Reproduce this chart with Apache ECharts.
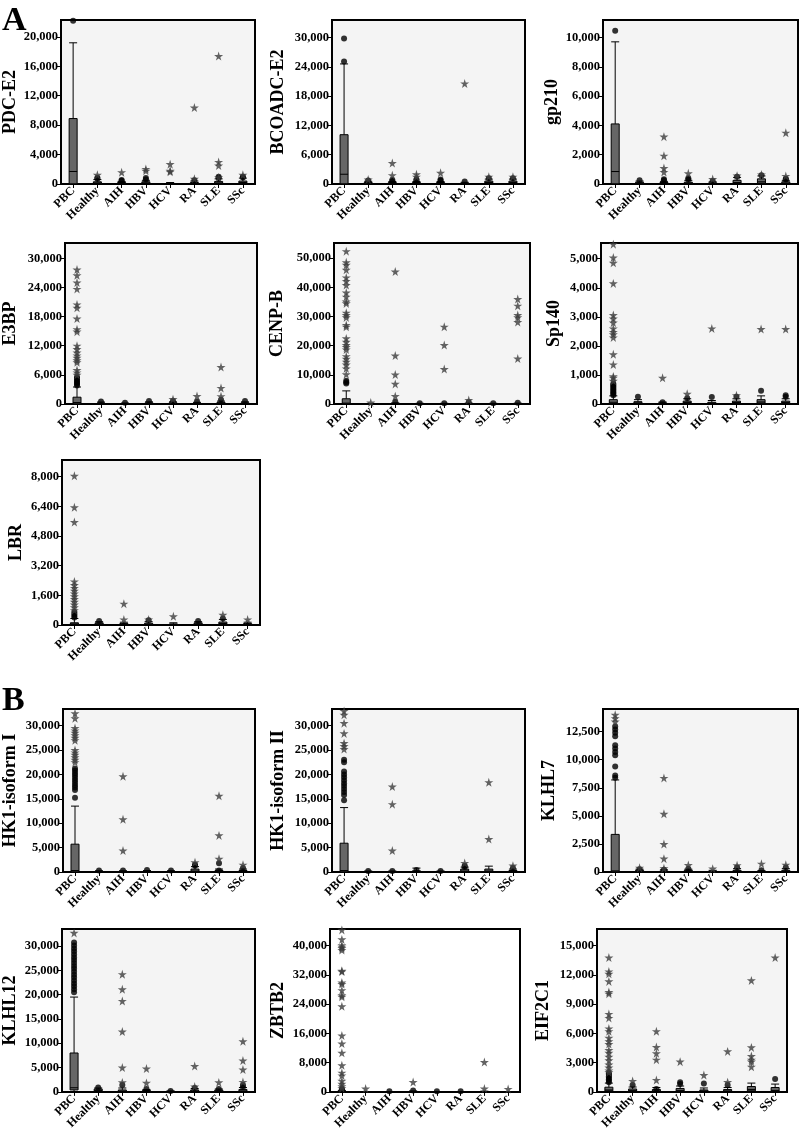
<!DOCTYPE html>
<html>
<head>
<meta charset="utf-8">
<script src="https://cdn.jsdelivr.net/npm/echarts@6/dist/echarts.min.js"></script>
<style>
html,body{margin:0;padding:0;background:#fff;}
#chart{width:800px;height:1132px;}
</style>
</head>
<body>
<div id="chart"></div>
<script>
const categories = ["PBC","Healthy","AIH","HBV","HCV","RA","SLE","SSc"];

// ---- PDC-E2 ----
const pdcBox = [[0,0,1700,8900,19200],[0,50,150,300,600],[0,30,100,200,350],[0,50,150,300,500],[0,20,50,100,200],[0,30,100,200,400],[0,50,150,350,700],[0,50,200,400,800]];
const pdcCircles = [[22200],[700,850],[450,550],[600,800],[],[500],[800,1000],[900,1000]];
const pdcStars = [[],[1250],[1600],[1800,2050],[1650,1800,2700],[700,10400],[900,2500,3000,17400],[1250]];
// ---- BCOADC-E2 ----
const bcoBox = [[0,0,2000,10100,24600],[0,50,150,300,550],[0,50,150,300,500],[0,50,150,300,500],[0,50,150,300,500],[0,30,100,200,350],[0,100,300,600,1000],[0,100,300,600,1000]];
const bcoCircles = [[25100,29800],[700],[600,800],[700,900],[700,900],[500],[1200],[1200]];
const bcoStars = [[],[900],[1800,4300],[1500,2000],[2300],[20600],[1500],[1500]];
// ---- gp210 ----
const gpBox = [[0,0,850,4100,9700],[0,20,60,120,200],[0,10,40,100,180],[0,20,60,130,250],[0,10,40,80,150],[0,30,100,250,450],[0,50,150,350,550],[0,20,60,150,250]];
const gpCircles = [[10450],[250],[250,320],[300,400],[200],[500],[600],[300,350]];
const gpStars = [[],[],[820,1090,1930,3230],[730],[340],[570],[650],[550,3500]];
// ---- E3BP ----
const e3Box = [[0,0,300,1400,3500],[0,20,80,200,400],[0,10,50,100,200],[0,30,100,250,450],[0,30,100,250,450],[0,30,100,200,350],[0,50,150,350,600],[0,30,100,250,450]];
const e3Circles = [[3800,4100,4400,4700,5000,5300,5500],[500],[250],[600],[600],[500],[900],[600]];
const e3Stars = [[6000,6500,7000,8600,9000,9500,10000,10600,11300,12000,14900,15400,17600,19800,20500,23700,25000,26500,27700],[],[],[],[1000],[1650],[1600,3300,7600],[]];
// ---- CENP-B ----
const cenBox = [[0,0,300,1800,4500],[0,10,40,100,200],[0,20,80,200,400],[0,20,60,150,250],[0,20,60,150,250],[0,20,60,150,300],[0,20,60,150,250],[0,20,60,150,300]];
const cenCircles = [[7000,7500,8000],[],[800],[300],[300],[600],[300],[400]];
const cenStars = [[10200,12200,13500,14500,15500,16400,18700,19500,20200,21300,22500,26500,27100,29700,30500,31300,34500,35100,36800,38200,40800,42200,43400,46000,47700,48600,52400],[500],[2700,6900,10100,16600,45400],[],[12000,20200,26500],[1400],[],[15600,28100,29700,30500,33700,36000]];
// ---- Sp140 ----
const spBox = [[0,20,60,150,280],[0,15,40,80,150],[0,5,20,40,70],[0,15,50,100,180],[0,10,30,60,120],[0,20,50,100,180],[0,30,70,150,280],[0,20,50,100,180]];
const spCircles = [[300,350,400,450,500,550,600,650,700],[250],[60],[200],[240],[250],[460],[250,300]];
const spStars = [[800,900,950,1360,1710,2290,2400,2480,2600,2800,2940,3060,4150,4860,5040,5500],[],[900],[350],[2600],[300],[2580],[2580]];
// ---- LBR ----
const lbrBox = [[0,20,60,120,350],[0,20,60,120,180],[0,10,40,80,150],[0,20,50,100,180],[0,10,30,60,120],[0,20,60,120,180],[0,30,80,160,300],[0,10,40,80,150]];
const lbrCircles = [[400,500,600,700],[220],[],[250],[],[220],[350],[]];
const lbrStars = [[800,950,1100,1250,1400,1550,1700,1850,2000,2150,2350,5550,6350,8050],[],[300,1150],[300],[470],[],[550],[300]];
// ---- HK1-isoform I ----
const hk1Box = [[0,0,300,5700,13500],[0,20,60,150,250],[0,20,60,150,250],[0,30,80,180,300],[0,20,60,150,250],[0,50,200,600,1100],[0,30,100,300,600],[0,30,100,300,600]];
const hk1Circles = [[15200,16800,17300,17800,18300,18800,19300,19800,20300,20800,21200],[300],[300],[400],[300],[1300,1500],[300,1800],[800]];
const hk1Stars = [[22500,23000,23500,24000,24500,25000,27000,27500,28000,28500,29000,29500,31500,32500],[],[4400,10800,19600],[],[],[2000],[2700,7500,15600],[1500]];
// ---- HK1-isoform II ----
const hk2Box = [[0,0,300,5900,13200],[0,20,60,120,200],[0,20,60,120,200],[0,30,100,250,800],[0,20,60,120,200],[0,50,200,600,1000],[0,50,200,600,1200],[0,30,100,300,600]];
const hk2Circles = [[14700,15800,16400,17000,17600,18200,18800,19400,20000,20600,22500,23000],[200],[200],[400],[200],[1000,1300],[],[800]];
const hk2Stars = [[25200,25800,26400,28400,30500,32200,33000],[],[4400,13900,17500],[],[],[1850],[6750,18400],[1300]];
// ---- KLHL7 ----
const k7Box = [[0,0,100,3350,8200],[0,20,60,150,250],[0,10,40,100,200],[0,20,60,150,250],[0,10,40,80,150],[0,20,60,150,300],[0,10,30,60,120],[0,20,60,150,300]];
const k7Circles = [[8400,8600,9400,10400,10700,11000,11300,12100,12400,12700,12950],[250],[200],[300],[],[400],[150],[400]];
const k7Stars = [[13400,13700,14000],[370],[330,1190,2490,5180,8380],[620],[300],[600],[740],[650]];
// ---- KLHL12 ----
const k12Box = [[0,400,850,8000,19500],[0,100,300,600,800],[0,50,150,400,800],[0,50,150,300,500],[0,20,60,120,200],[0,50,200,400,700],[0,50,200,400,600],[0,50,200,500,900]];
const k12Circles = [[20500,21100,21700,22300,22900,23500,24100,24700,25300,25900,26500,27100,27700,28300,28900,29500,30100,30700],[900],[1400],[600],[200],[800],[600],[1000,1400]];
const k12Stars = [[32700],[],[1950,5000,12400,18700,21100,24200],[1850,4800],[],[1100,5300],[1950],[2050,4600,6450,10400]];
// ---- ZBTB2 ----
const zbBox = [[0,0,50,200,400],[0,10,30,60,100],[0,10,30,60,100],[0,20,60,150,250],[0,10,30,60,100],[0,10,30,60,100],[0,20,50,100,200],[0,10,30,60,100]];
const zbCircles = [[500,700],[],[200],[400],[200],[200],[],[]];
const zbStars = [[1000,1500,2200,3000,4500,5250,7250,10700,13200,15400,23400,26000,26400,27800,29500,29900,32900,33100,38800,39300,39700,40100,41700,44300],[900],[],[2700],[],[],[900,8150],[800]];
// ---- EIF2C1 ----
const eiBox = [[0,100,200,480,900],[0,50,150,300,500],[0,30,100,250,450],[0,50,150,350,600],[0,30,100,200,400],[0,30,100,250,450],[0,100,250,550,900],[0,50,150,450,800]];
const eiCircles = [[1000,1150,1300,1450,1600,1750,1900],[700],[300],[800,1000],[850],[700],[],[1330]];
const eiStars = [[2000,2200,2500,2800,3230,3600,4010,4290,4900,5200,5540,6220,6500,7580,7990,10070,10240,11330,12110,12350,13770],[1120],[1220,3300,3950,4590,6220],[3100],[1730],[1000,4150],[2580,3100,3300,3670,4560,11430],[13770]];

// axis names, maxima, tick intervals
const names = ["PDC-E2","BCOADC-E2","gp210","E3BP","CENP-B","Sp140","LBR","HK1-isoform I","HK1-isoform II","KLHL7","KLHL12","ZBTB2","EIF2C1"];
const yMax = [22300,33600,11190,33160,55200,5540,8900,33400,33400,14520,33500,44540,16700];
const yInterval = [4000,6000,2000,6000,10000,1000,1600,5000,5000,2500,5000,8000,3000];

// layout (positions only)
const layout = [
  {l:61,t:20,w:194,h:164,g:41},{l:332,t:20,w:193,h:164,g:45},{l:603,t:20,w:195,h:164,g:41},
  {l:61,t:243,w:196,h:161,g:46},{l:334,t:243,w:196,h:161,g:48},{l:601,t:243,w:197,h:161,g:38},
  {l:62,t:460,w:198,h:165,g:37},
  {l:59,t:709,w:196,h:163,g:44},{l:332,t:709,w:193,h:163,g:45},{l:603,t:709,w:195,h:163,g:45},
  {l:60,t:929,w:195,h:163,g:43},{l:330,t:929,w:190,h:164,g:43},{l:597,t:929,w:190,h:164,g:45}
];
const boxes = [pdcBox,bcoBox,gpBox,e3Box,cenBox,spBox,lbrBox,hk1Box,hk2Box,k7Box,k12Box,zbBox,eiBox];
const circles = [pdcCircles,bcoCircles,gpCircles,e3Circles,cenCircles,spCircles,lbrCircles,hk1Circles,hk2Circles,k7Circles,k12Circles,zbCircles,eiCircles];
const stars = [pdcStars,bcoStars,gpStars,e3Stars,cenStars,spStars,lbrStars,hk1Stars,hk2Stars,k7Stars,k12Stars,zbStars,eiStars];

const FONT = '"Liberation Serif","Times New Roman",serif';
const STAR = 'path://M50,0 L61,35 L98,35 L68,57 L79,91 L50,70 L21,91 L32,57 L2,35 L39,35 Z';

const grids=[], xAxes=[], yAxes=[], series=[];
layout.forEach((p,i)=>{
  grids.push({left:p.l, top:p.t, width:p.w, height:p.h, show:true,
    backgroundColor: i===11 ? '#ffffff' : '#f4f4f4', borderColor:'#000', borderWidth:2, containLabel:false});
  xAxes.push({type:'category', gridIndex:i, data:categories, boundaryGap:true,
    axisLine:{show:false}, axisTick:{show:true, alignWithLabel:true, length:4, lineStyle:{color:'#000'}},
    axisLabel:{rotate:45, interval:0, margin:5, fontFamily:FONT, fontWeight:'bold', fontSize:12, color:'#000'},
    splitLine:{show:false}});
  yAxes.push({type:'value', gridIndex:i, min:0, max:yMax[i], interval:yInterval[i],
    name:names[i], nameLocation:'middle', nameGap:p.g,
    nameTextStyle:{fontFamily:FONT, fontWeight:'bold', fontSize:18, color:'#000'},
    axisLine:{show:false}, axisTick:{show:true, length:4, lineStyle:{color:'#000'}},
    axisLabel:{showMaxLabel:false, margin:3, fontFamily:FONT, fontWeight:'bold', fontSize:12.5, color:'#000',
      formatter:v=>Number(v).toLocaleString('en-US')},
    splitLine:{show:false}});
  series.push({type:'boxplot', xAxisIndex:i, yAxisIndex:i, data:boxes[i], boxWidth:[8,8],
    itemStyle:{color:'#666666', borderColor:'#000', borderWidth:1}, z:2, silent:true});
  const c=[], s=[];
  circles[i].forEach((arr,k)=>arr.forEach(v=>c.push([k,v])));
  stars[i].forEach((arr,k)=>arr.forEach(v=>s.push([k,v])));
  series.push({type:'scatter', xAxisIndex:i, yAxisIndex:i, data:c, symbol:'circle', symbolSize:6,
    itemStyle:{color:'#000'}, z:3, silent:true});
  series.push({type:'scatter', xAxisIndex:i, yAxisIndex:i, data:s, symbol:STAR, symbolSize:9,
    itemStyle:{color:'#3c3c3c'}, z:4, silent:true});
});

const chart = echarts.init(document.getElementById('chart'), null, {renderer:'canvas'});
chart.setOption({
  animation:false,
  backgroundColor:'#ffffff',
  graphic:[
    {type:'text', left:2, top:4, style:{text:'A', font:'bold 34px '+FONT, fill:'#000'}},
    {type:'text', left:2, top:684, style:{text:'B', font:'bold 34px '+FONT, fill:'#000'}}
  ],
  grid:grids, xAxis:xAxes, yAxis:yAxes, series:series
});
</script>
</body>
</html>
